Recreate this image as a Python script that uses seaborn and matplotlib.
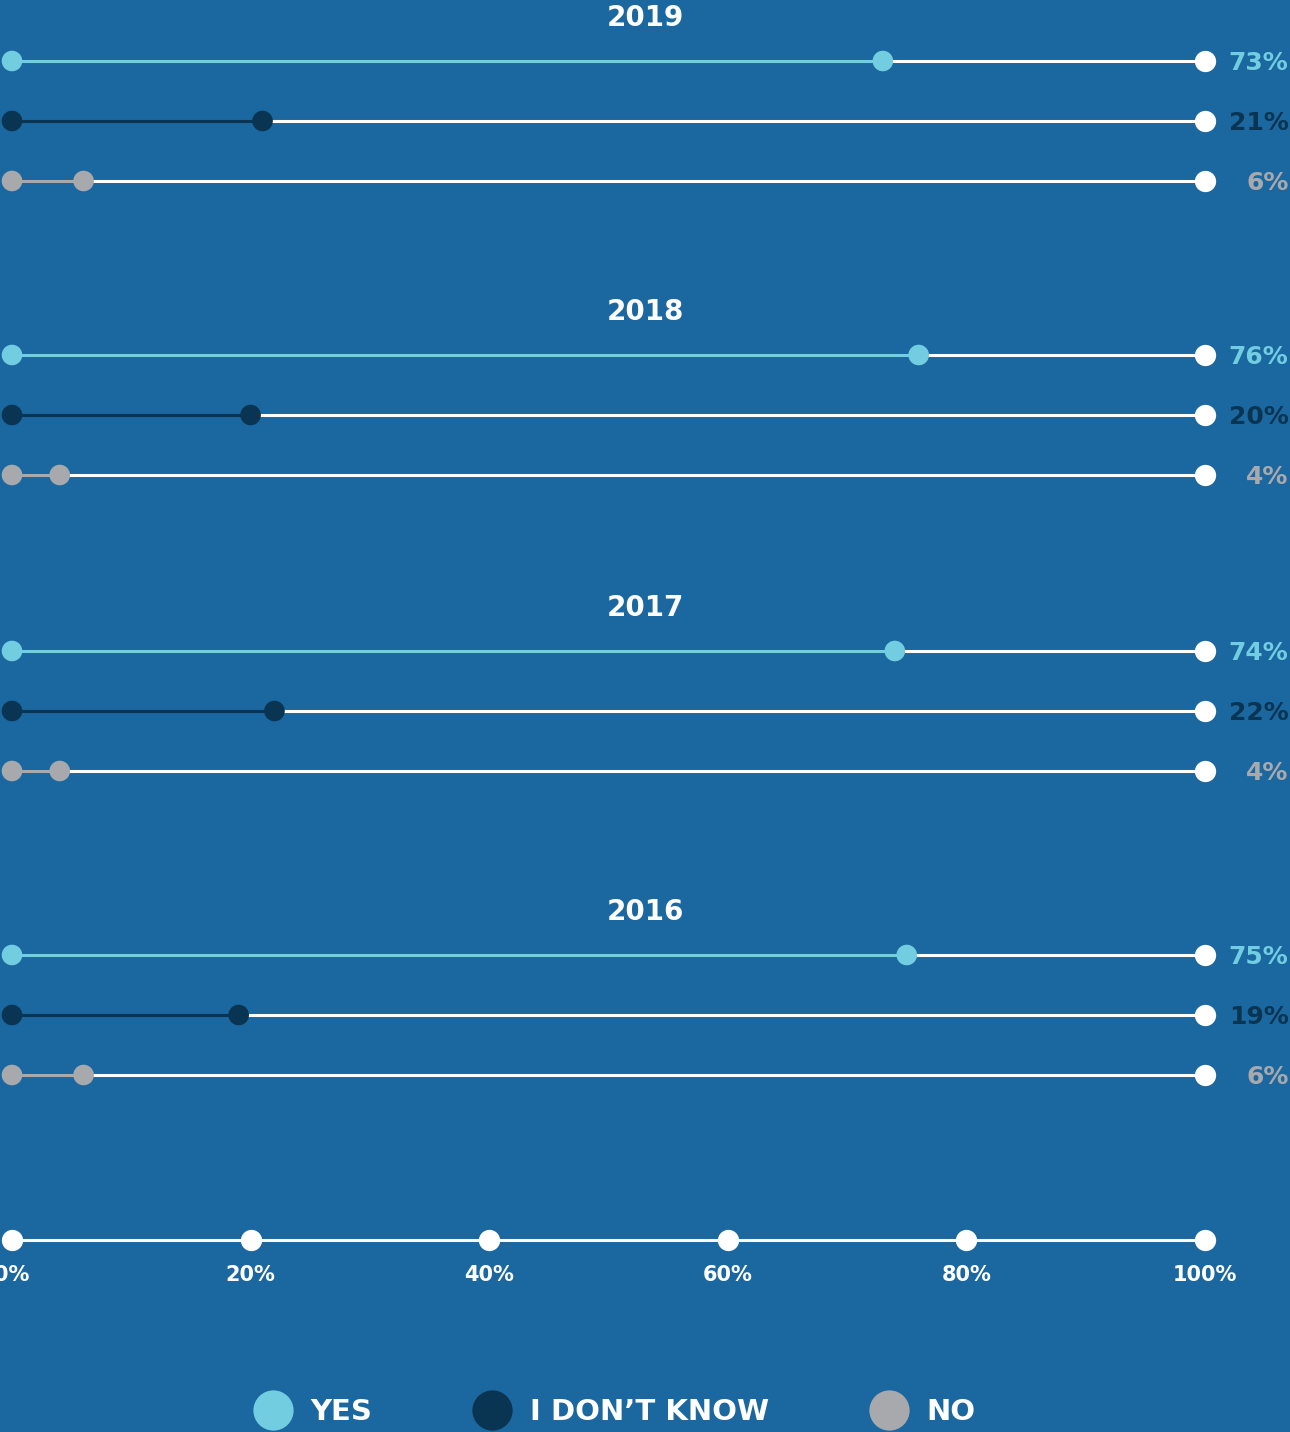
import pandas as pd
import seaborn as sns
import matplotlib.pyplot as plt
from matplotlib.lines import Line2D
from matplotlib.transforms import blended_transform_factory

# data
years = ["2019", "2018", "2017", "2016"]
answers = ["YES", "I DON’T KNOW", "NO"]
yes = [73, 76, 74, 75]
dont_know = [21, 20, 22, 19]
no = [6, 4, 4, 6]
ticks = [0, 20, 40, 60, 80, 100]
tick_labels = ["0%", "20%", "40%", "60%", "80%", "100%"]

BG = "#1B67A0"
palette = {"YES": "#72CDE0", "I DON’T KNOW": "#0A3552", "NO": "#A8A9AC"}

# layout (pixel units, y grows down)
W, H = 1290, 1432
group_y = [61, 355, 651, 955]
row_step = 60
axis_y = 1240

sns.set_theme(style="white")
plt.rcParams['font.family'] = ['DejaVu Sans']

rows = []
for g, yr in enumerate(years):
    vals = [yes[g], dont_know[g], no[g]]
    for r, ans in enumerate(answers):
        rows.append({"year": yr, "answer": ans, "value": vals[r],
                     "y": group_y[g] + r * row_step})
df = pd.DataFrame(rows)

fig = plt.figure(figsize=(W / 100, H / 100), dpi=100, facecolor=BG)
ax = fig.add_axes([0, 0, 1, 1])
ax.set_facecolor(BG)
px = 100 / 1193.0
ax.set_xlim(-12 * px, 100 + (W - 1205) * px)
ax.set_ylim(H, 0)
ax.axis("off")

# lines: coloured part then white remainder
for _, row in df.iterrows():
    c = palette[row["answer"]]
    ax.hlines(row["y"], 0, row["value"], color=c, lw=2.2, zorder=1)
    ax.hlines(row["y"], row["value"], 100, color="white", lw=2.2, zorder=1)

start = df.assign(value=0)
sns.scatterplot(data=pd.concat([start, df]), x="value", y="y", hue="answer",
                palette=palette, s=220, linewidth=0, legend=False, zorder=3, ax=ax)
sns.scatterplot(data=df.assign(value=100), x="value", y="y", color="white",
                s=235, linewidth=0, legend=False, zorder=3, ax=ax)
ax.set_xlabel("")
ax.set_ylabel("")

for _, row in df.iterrows():
    ax.text(107.0, row["y"] + 2, f"{row['value']}%", ha="right", va="center",
            fontsize=18, fontweight="bold", color=palette[row["answer"]])

# year titles centred on the figure
trans = blended_transform_factory(fig.transFigure, ax.transData)
for g, yr in enumerate(years):
    ax.text(0.5, group_y[g] - 43, yr, ha="center", va="center", transform=trans,
            fontsize=20, fontweight="bold", color="white")

# bottom scale
ax.hlines(axis_y, 0, 100, color="white", lw=2.2, zorder=1)
sns.scatterplot(x=ticks, y=[axis_y] * len(ticks), color="white", s=235,
                linewidth=0, legend=False, zorder=3, ax=ax)
for t, lab in zip(ticks, tick_labels):
    ax.text(t, axis_y + 35, lab, ha="center", va="center", fontsize=15,
            fontweight="bold", color="white")

handles = [Line2D([], [], marker="o", ls="", markersize=29, markerfacecolor=palette[a],
                  markeredgewidth=0) for a in answers]
leg = fig.legend(handles, answers, loc="center", bbox_to_anchor=(614 / W, 20 / H), ncol=3,
                 frameon=False, fontsize=21, handlelength=1.4, handletextpad=0.6,
                 columnspacing=3.4, borderaxespad=0, borderpad=0)
for t in leg.get_texts():
    t.set_color("white")
    t.set_fontweight("bold")

fig.savefig("out.png", dpi=100, facecolor=BG)
